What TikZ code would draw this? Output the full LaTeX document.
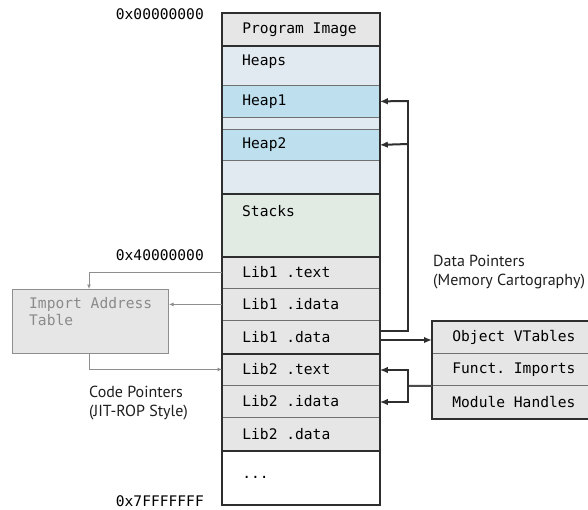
\documentclass[tikz,border=0pt]{standalone}
\usepackage{fontspec}
\setmonofont{DejaVu Sans Mono}[WordSpace={1,0,0}]
\setsansfont{PT Sans}
\usetikzlibrary{arrows.meta}
\definecolor{cellgray}{HTML}{E6E6E6}
\definecolor{heapsbg}{HTML}{E2EAF1}
\definecolor{heapfill}{HTML}{BEDFEE}
\definecolor{stackbg}{HTML}{E1EBE4}
\definecolor{darkline}{HTML}{2E2E2E}
\definecolor{thinline}{HTML}{707070}
\definecolor{iatline}{HTML}{8E8E8E}
\definecolor{iattext}{HTML}{8A8A8A}
\tikzset{
  mono/.style={font=\ttfamily\fontsize{14.6}{17}\selectfont\frenchspacing},
  cell/.style={mono, rectangle, anchor=north west, minimum width=157pt, inner ysep=0pt,
    inner xsep=20pt, text width=117pt, align=flush left, draw=thinline, line width=0.8pt},
  rcell/.style={mono, rectangle, anchor=north west, minimum width=170pt, inner ysep=0pt,
    inner xsep=20pt, text width=130pt, align=flush left, draw=thinline, line width=0.8pt, fill=cellgray},
  sep/.style={draw=darkline, line width=2pt},
  addr/.style={mono, anchor=east, inner sep=0pt},
  lbl/.style={font=\sffamily\fontsize{16}{19.5}\selectfont, anchor=west, inner sep=0pt, align=left, text=black!88},
  garrow/.style={draw=iatline, line width=1pt, -{Latex[length=4.5pt,width=4pt]}},
  barrow/.style={draw=darkline, line width=2pt, -{Latex[length=8pt,width=6.5pt]}},
  bline/.style={draw=darkline, line width=2pt},
}
\begin{document}
\begin{tikzpicture}[x=1pt,y=-1pt]
\useasboundingbox (0,0) rectangle (588,509);
\clip (0,0) rectangle (588,509);
\fill[white] (0,0) rectangle (588,509);

% main column
\node[cell, fill=cellgray, minimum height=32pt] (prog) at (222,13) {Program Image};
\node[cell, fill=heapsbg, minimum height=148pt, draw=none] (heaps) at (222,45) {};
\node[mono, anchor=west, inner sep=0pt] (heapslbl) at (242,62) {Heaps};
\node[cell, fill=heapfill, minimum height=32pt] (heap1) at (222,85) {Heap1};
\node[cell, fill=heapfill, minimum height=31pt] (heap2) at (222,129) {Heap2};
\node[cell, fill=stackbg, minimum height=63pt, draw=none] (stacks) at (222,193) {};
\node[mono, anchor=west, inner sep=0pt] (stackslbl) at (242,211) {Stacks};
\node[cell, fill=cellgray, minimum height=32pt] (l1t) at (222,256) {Lib1 .text};
\node[cell, fill=cellgray, minimum height=32pt] (l1i) at (222,288) {Lib1 .idata};
\node[cell, fill=cellgray, minimum height=33pt] (l1d) at (222,320) {Lib1 .data};
\node[cell, fill=cellgray, minimum height=32pt] (l2t) at (222,353) {Lib2 .text};
\node[cell, fill=cellgray, minimum height=32pt] (l2i) at (222,385) {Lib2 .idata};
\node[cell, fill=cellgray, minimum height=33pt] (l2d) at (222,417) {Lib2 .data};
\node[cell, fill=white, minimum height=54pt, draw=none] (dots) at (222,450) {...};

% thick separators and outline
\draw[sep] (prog.south west) -- (prog.south east);
\draw[sep] (heaps.south west) -- (heaps.south east);
\draw[sep] (stacks.south west) -- (stacks.south east);
\draw[sep] (l1d.south west) -- (l1d.south east);
\draw[sep] (l2d.south west) -- (l2d.south east);
\draw[sep] (prog.north west) rectangle (dots.south east);

% addresses
\node[addr] (a0) at (204,14) {0x00000000};
\node[addr] (a4) at (204,255) {0x40000000};
\node[addr] (a7) at (204,501) {0x7FFFFFFF};

% import address table
\node[rectangle, anchor=north west, minimum width=156pt, minimum height=64pt,
  fill=cellgray, draw=iatline, line width=1pt] (iat) at (12,289) {};
\node[mono, text=iattext, anchor=north west, inner sep=0pt, align=left] (iattxt) at (29,297) {Import Address\\Table};

\coordinate (iattop) at (89,289);
\coordinate (iatbot) at (89,353);
\draw[garrow] (l1t.west) -| (iattop);
\draw[garrow] (l1i.west) -- (iat.east |- l1i.west);
\draw[garrow] (iatbot) |- (l2t.west);

\node[lbl] (codeptr) at (89,403) {Code Pointers\\(JIT-ROP Style)};

% right table
\node[rcell, minimum height=32pt] (ov) at (432,321) {Object VTables};
\node[rcell, minimum height=32pt] (fi) at (432,353) {Funct. Imports};
\node[rcell, minimum height=33pt] (mh) at (432,385) {Module Handles};
\draw[sep] (ov.north west) rectangle (mh.south east);

\node[lbl] (dataptr) at (433,272) {Data Pointers\\(Memory Cartography)};

% data pointer arrows
\coordinate (j1) at (408,331);
\coordinate (jh2) at (408,144);
\draw[bline] (l1d.east |- j1) -- (j1) -- (408,100);
\draw[barrow] (408,101) -- (heap1.east);
\draw[barrow] (jh2) -- (heap2.east);
\draw[barrow] (l1d.east |- 0,340) -- (ov.west |- 0,340);

% code pointer arrows from right table
\coordinate (j2) at (408,386);
\draw[bline, draw=black!70] (fi.south west) -- (j2);
\draw[barrow] (j2) |- (l2t.east |- 0,370);
\draw[barrow] (j2) |- (l2i.east |- 0,402);
\end{tikzpicture}
\end{document}
